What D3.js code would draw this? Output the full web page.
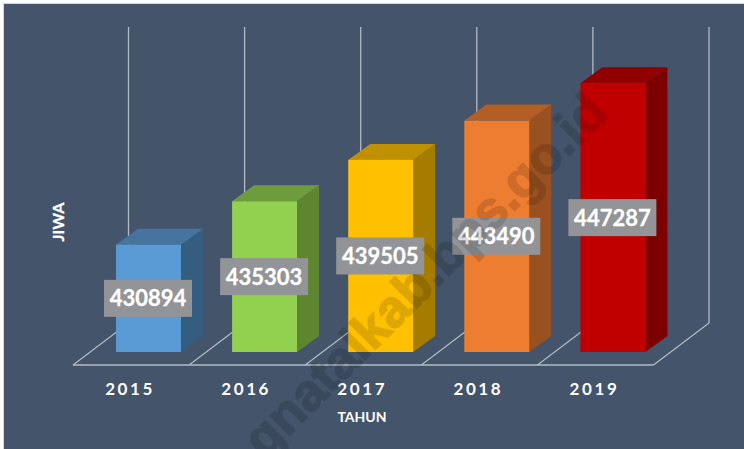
<!DOCTYPE html>
<html>
<head>
<meta charset="utf-8">
<script src="https://cdn.jsdelivr.net/npm/d3@7"></script>
<style>
    html, body { margin: 0; padding: 0; background: #fff; overflow: hidden; }
    svg { display: block; }
    text { font-family: Lato, "Open Sans", sans-serif; font-weight: 700; fill: #fff; }
</style>
</head>
<body>
<div id="chart"></div>
<script>
// Chart data
const years = ["2015", "2016", "2017", "2018", "2019"];
const population = [430894, 435303, 439505, 443490, 447287];
const frontColors = ["#5b9bd5", "#92d050", "#ffc000", "#ed7d31", "#c00000"];
const topColors = ["#44749f", "#6d9c3c", "#bf9000", "#b25e24", "#900000"];
const sideColors = ["#355d80", "#5e8630", "#a67c00", "#9a5120", "#7d0000"];

const width = 744;
const height = 449;
const lineColor = "#b4bac3";

const svg = d3.select("#chart")
    .append("svg")
    .attr("width", width)
    .attr("height", height);

// Panel background
svg.append("rect")
    .attr("x", 3.5)
    .attr("y", 3.5)
    .attr("width", width + 10)
    .attr("height", height + 10)
    .attr("fill", "#44546a")
    .attr("stroke", "#d4d6d9");

// Scales
const x = d3.scaleBand()
    .domain(years)
    .range([73, 653.5]);

const y = d3.scaleLinear()
    .domain([420000, 450000])
    .range([352, 56.5]);

// 3D offsets
const barInset = 43;
const barWidth = 65;
const barDepth = { x: 22, y: -16 };
const floorY = 365;
const wallDepth = { x: 55.5, y: -42 };
const wallTop = 27;

// Back wall verticals, one per category boundary
const boundaries = years.concat(["end"]).map((d, i) => 73 + i * x.step());

svg.append("g")
    .selectAll("line")
    .data(boundaries)
    .join("line")
    .attr("x1", d => d + wallDepth.x)
    .attr("x2", d => d + wallDepth.x)
    .attr("y1", wallTop)
    .attr("y2", floorY + wallDepth.y)
    .attr("stroke", lineColor)
    .attr("stroke-width", 1.3);

// Floor diagonals
svg.append("g")
    .selectAll("line")
    .data(boundaries)
    .join("line")
    .attr("x1", d => d)
    .attr("x2", d => d + wallDepth.x)
    .attr("y1", floorY)
    .attr("y2", floorY + wallDepth.y)
    .attr("stroke", lineColor)
    .attr("stroke-width", 1.2);

// Floor front edge
svg.append("line")
    .attr("x1", x.range()[0])
    .attr("x2", x.range()[1])
    .attr("y1", floorY)
    .attr("y2", floorY)
    .attr("stroke", lineColor)
    .attr("stroke-width", 1.3);

// Bars: side, top, front
const bars = svg.append("g")
    .selectAll("g")
    .data(years)
    .join("g")
    .attr("transform", d => `translate(${x(d) + barInset},0)`);

bars.append("path")
    .attr("fill", (d, i) => sideColors[i])
    .attr("d", (d, i) => {
        const t = y(population[i]);
        const b = y.range()[0];
        return `M${barWidth},${t}L${barWidth + barDepth.x},${t + barDepth.y}L${barWidth + barDepth.x},${b + barDepth.y}L${barWidth},${b}Z`;
    });

bars.append("path")
    .attr("fill", (d, i) => topColors[i])
    .attr("d", (d, i) => {
        const t = y(population[i]);
        return `M0,${t}L${barDepth.x},${t + barDepth.y}L${barWidth + barDepth.x},${t + barDepth.y}L${barWidth},${t}Z`;
    });

bars.append("rect")
    .attr("x", 0)
    .attr("y", (d, i) => y(population[i]))
    .attr("width", barWidth)
    .attr("height", (d, i) => y.range()[0] - y(population[i]))
    .attr("fill", (d, i) => frontColors[i]);

// Value labels
const labelW = 88;
const labelH = 37;

const labels = svg.append("g")
    .selectAll("g")
    .data(years)
    .join("g")
    .attr("transform", (d, i) => {
        const cx = x(d) + barInset + barWidth / 2 - 0.5;
        const cy = (y(population[i]) + y.range()[0]) / 2;
        return `translate(${cx},${cy})`;
    });

labels.append("rect")
    .attr("x", -labelW / 2)
    .attr("y", -labelH / 2)
    .attr("width", labelW)
    .attr("height", labelH)
    .attr("fill", "#929497");

labels.append("text")
    .attr("text-anchor", "middle")
    .attr("y", 8)
    .attr("font-size", 22)
    .attr("stroke", "#fff")
    .attr("stroke-width", 0.3)
    .text((d, i) => population[i]);

// X axis labels
const xAxis = svg.append("g")
    .attr("transform", "translate(-1,378)")
    .call(d3.axisBottom(x).tickSize(0));

xAxis.select(".domain").remove();

xAxis.selectAll("text")
    .attr("font-size", 17)
    .attr("font-family", "Lato")
    .attr("letter-spacing", 2.6)
    .attr("dy", "0.71em")
    .attr("y", 5);

// Axis titles
svg.append("text")
    .attr("x", 362)
    .attr("y", 422)
    .attr("text-anchor", "middle")
    .attr("font-size", 14)
    .text("TAHUN");

svg.append("text")
    .attr("transform", "translate(64,222) rotate(-90)")
    .attr("text-anchor", "middle")
    .attr("font-size", 16)
    .attr("stroke", "#fff")
    .attr("stroke-width", 0.3)
    .text("JIWA");

// Site watermark over everything
svg.append("text")
    .attr("transform", "translate(610,115) rotate(-45)")
    .attr("text-anchor", "end")
    .attr("font-size", 52)
    .style("font-family", "'Liberation Sans', sans-serif")
    .style("fill", "#000")
    .style("stroke", "#000")
    .style("stroke-width", 1.6)
    .style("opacity", 0.13)
    .text("gnatalkab.bps.go.id");
</script>
</body>
</html>
